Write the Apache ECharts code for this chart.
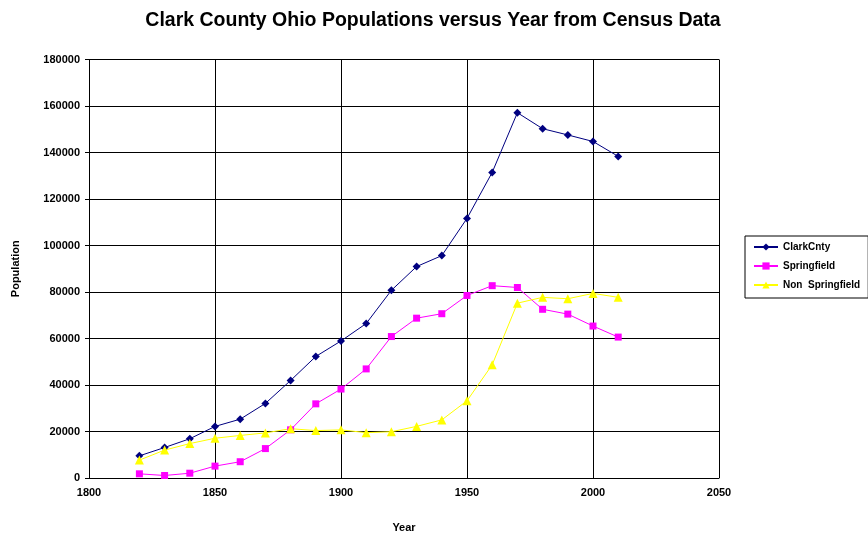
<!DOCTYPE html>
<html>
<head>
<meta charset="utf-8">
<script src="https://cdn.jsdelivr.net/npm/echarts@6/dist/echarts.min.js"></script>
<style>
  html, body {margin: 0; padding: 0; background: #fff;}
  #chart {width: 868px; height: 538px;}
</style>
</head>
<body>
<div id="chart"></div>
<script>
const years = [1820, 1830, 1840, 1850, 1860, 1870, 1880, 1890, 1900, 1910,
  1920, 1930, 1940, 1950, 1960, 1970, 1980, 1990, 2000, 2010]
const clarkCnty = [9533, 13114, 16882, 22178, 25300, 32070, 41948, 52277, 58939, 66435,
  80728, 90936, 95647, 111661, 131440, 157115, 150236, 147548, 144742, 138333]
const springfield = [1800, 1080, 2062, 5108, 7002, 12652, 20730, 31895, 38253, 46921,
  60840, 68743, 70662, 78508, 82723, 81941, 72563, 70487, 65358, 60608]
const nonSpringfield = [7700, 12000, 14800, 17100, 18300, 19400, 21200, 20400, 20700, 19500,
  19900, 22200, 25000, 33200, 48700, 75200, 77700, 77100, 79400, 77700]

const font = 'Liberation Sans, Arial, sans-serif'
const pairs = (vals) => years.map((y, i) => [y, vals[i]])
const plain = (v) => String(v)

const chart = echarts.init(document.getElementById('chart'))

chart.setOption({
  animation: false,
  backgroundColor: '#fff',
  title: {
    text: 'Clark County Ohio Populations versus Year from Census Data',
    left: 428,
    textAlign: 'center',
    top: 6,
    textStyle: {fontFamily: font, fontSize: 19.5, fontWeight: 'bold', color: '#000'}
  },
  legend: {
    orient: 'vertical',
    left: 745,
    top: 236,
    padding: [6, 8, 8, 8],
    itemGap: 9,
    itemWidth: 24,
    itemHeight: 9,
    borderColor: '#000',
    borderWidth: 1,
    textStyle: {fontFamily: font, fontSize: 10, fontWeight: 'bold', color: '#000'},
    data: ['ClarkCnty', 'Springfield', 'Non  Springfield']
  },
  grid: {left: 89, right: 149, top: 59.5, bottom: 59},
  xAxis: {
    type: 'value',
    min: 1800,
    max: 2050,
    interval: 50,
    name: 'Year',
    nameLocation: 'middle',
    nameGap: 44,
    nameTextStyle: {fontFamily: font, fontSize: 11, fontWeight: 'bold', color: '#000'},
    axisLine: {lineStyle: {color: '#000'}},
    axisTick: {show: false},
    axisLabel: {fontFamily: font, fontSize: 11, fontWeight: 'bold', color: '#000', margin: 9, formatter: plain},
    splitLine: {show: true, lineStyle: {color: '#000', width: 1}}
  },
  yAxis: {
    type: 'value',
    min: 0,
    max: 180000,
    interval: 20000,
    name: 'Population',
    nameLocation: 'middle',
    nameGap: 68,
    nameTextStyle: {fontFamily: font, fontSize: 11, fontWeight: 'bold', color: '#000'},
    axisLine: {show: true, lineStyle: {color: '#000'}},
    axisTick: {show: true, length: 4, lineStyle: {color: '#000'}},
    axisLabel: {fontFamily: font, fontSize: 11, fontWeight: 'bold', color: '#000', margin: 9, formatter: plain},
    splitLine: {show: true, lineStyle: {color: '#000', width: 1}}
  },
  series: [
    {
      name: 'ClarkCnty',
      type: 'line',
      data: pairs(clarkCnty),
      color: '#000080',
      symbol: 'diamond',
      symbolSize: 8,
      lineStyle: {width: 1}
    },
    {
      name: 'Springfield',
      type: 'line',
      data: pairs(springfield),
      color: '#FF00FF',
      symbol: 'rect',
      symbolSize: 7,
      lineStyle: {width: 1}
    },
    {
      name: 'Non  Springfield',
      type: 'line',
      data: pairs(nonSpringfield),
      color: '#FFFF00',
      symbol: 'triangle',
      symbolSize: 9,
      lineStyle: {width: 1}
    }
  ]
})
</script>
</body>
</html>
